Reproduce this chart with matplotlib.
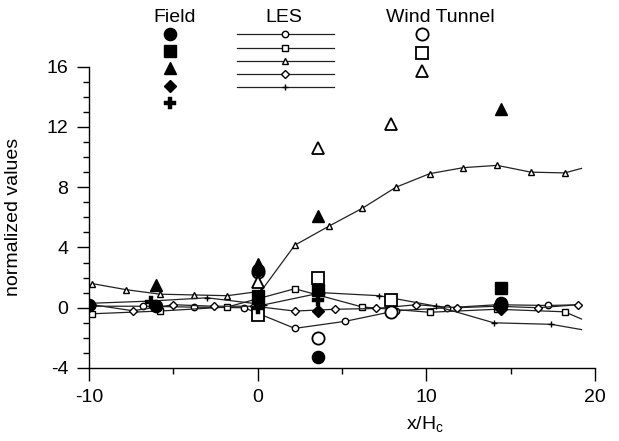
import matplotlib
matplotlib.use("Agg")
import matplotlib.pyplot as plt
from matplotlib.lines import Line2D

plt.rcParams['font.family'] = ['Liberation Sans', 'DejaVu Sans']
plt.rcParams['axes.unicode_minus'] = False

# ---------------- data ----------------
# LES (lines with small open markers)
les_circle_x = [-9.8, -6.8, -3.8, -0.8, 2.2, 5.2, 8.2, 11.2, 14.2, 17.2, 19.2]
les_circle_y = [0.1, 0.1, 0.04, 0.0, -1.37, -0.9, -0.2, 0.0, 0.2, 0.15, 0.2]

les_square_x = [-9.8, -5.8, -1.8, 2.2, 6.2, 10.2, 14.2, 18.2, 19.2]
les_square_y = [-0.4, -0.22, 0.05, 1.26, 0.05, -0.3, -0.1, -0.27, -0.75]

les_tri_x = [-9.8, -7.8, -5.8, -3.8, -1.8, 0.2, 2.2, 4.2, 6.2, 8.2, 10.2, 12.2, 14.2, 16.2, 18.2, 19.2]
les_tri_y = [1.6, 1.2, 0.9, 0.85, 0.8, 1.1, 4.15, 5.4, 6.6, 8.0, 8.9, 9.3, 9.45, 9.0, 8.95, 9.25]

les_diam_x = [-9.8, -7.4, -5.0, -2.6, -0.2, 2.2, 4.6, 7.0, 9.4, 11.8, 14.2, 16.6, 19.0]
les_diam_y = [0.2, -0.2, 0.2, 0.1, 0.1, -0.22, -0.1, -0.05, 0.2, 0.0, 0.1, 0.0, 0.2]

les_plus_x = [-9.8, -6.4, -3.0, 0.4, 3.8, 7.2, 10.6, 14.0, 17.4, 19.2]
les_plus_y = [0.3, 0.44, 0.66, 0.2, 1.0, 0.8, 0.1, -1.0, -1.1, -1.45]

# Field (large filled markers)
field_circle_x = [-10, -6, 0, 3.6, 14.4]
field_circle_y = [0.2, 0.1, 2.5, -3.3, 0.3]
field_square_x = [0, 3.6, 14.4]
field_square_y = [0.8, 1.2, 1.3]
field_tri_x = [-6, 0, 3.6, 14.4]
field_tri_y = [1.5, 2.9, 6.1, 13.2]
field_diam_x = [-10, 0, 3.6, 14.4]
field_diam_y = [0.1, 0.3, -0.2, -0.1]
field_plus_x = [-6.3, 0, 3.6, 14.4]
field_plus_y = [0.4, 0.0, 0.5, 0.0]

# Wind tunnel (large open markers)
wt_circle_x = [0, 3.6, 7.9, 14.4]
wt_circle_y = [2.4, -2.0, -0.25, 0.2]
wt_square_x = [0, 3.6, 7.9]
wt_square_y = [-0.5, 2.0, 0.5]
wt_tri_x = [0, 3.6, 7.9]
wt_tri_y = [1.7, 10.6, 12.2]

# axis ticks
xticks = [-10, 0, 10, 20]
yticks = [-4, 0, 4, 8, 12, 16]

# ---------------- figure ----------------
fig = plt.figure(figsize=(6.19, 4.41), dpi=100)
ax = fig.add_axes([89/619, 73/441, (595-89)/619, (368-66.7)/441])

lw = 0.9
ms_les = 4.6
big = 8.8


def les_ms(m):
    return ms_les * 0.85 if m == 'D' else ms_les


les = [
    (les_circle_x, les_circle_y, 'o'),
    (les_square_x, les_square_y, 's'),
    (les_tri_x, les_tri_y, '^'),
    (les_diam_x, les_diam_y, 'D'),
    (les_plus_x, les_plus_y, '+'),
]
for x, y, m in les:
    ax.plot(x, y, color='#222222', lw=lw, marker=m, markersize=les_ms(m),
            markerfacecolor='white', markeredgecolor='black', markeredgewidth=1.0,
            markevery=list(range(len(x) - 1)) if x[-1] == 19.2 else None, zorder=3)

wt = [
    (wt_circle_x, wt_circle_y, 'o'),
    (wt_square_x, wt_square_y, 's'),
    (wt_tri_x, wt_tri_y, '^'),
]
for x, y, m in wt:
    ax.plot(x, y, linestyle='none', marker=m, markersize=big, markerfacecolor='white',
            markeredgecolor='black', markeredgewidth=1.3, zorder=4)

field = [
    (field_circle_x, field_circle_y, 'o', big, 1.0),
    (field_square_x, field_square_y, 's', big, 1.0),
    (field_tri_x, field_tri_y, '^', big, 1.0),
    (field_diam_x, field_diam_y, 'D', big * 0.72, 1.0),
    (field_plus_x, field_plus_y, 'P', big * 0.9, 0.3),
]
for x, y, m, ms, mew in field:
    ax.plot(x, y, linestyle='none', marker=m, markersize=ms, markerfacecolor='black',
            markeredgecolor='black', markeredgewidth=mew, zorder=5)

ax.set_xlim(-10, 20)
ax.set_ylim(-4, 16)
ax.set_xticks(xticks)
ax.set_yticks(yticks)
ax.set_xticks([-5, 5, 15], minor=True)
ax.set_yticks([v for v in range(-4, 17) if v % 4 != 0], minor=True)
ax.spines['top'].set_visible(False)
ax.spines['right'].set_visible(False)
ax.spines['left'].set_linewidth(1.0)
ax.spines['bottom'].set_linewidth(1.0)
ax.tick_params(axis='both', which='major', direction='out', length=9, width=1.0,
               labelsize=14, pad=6)
ax.tick_params(axis='both', which='minor', direction='out', length=4.5, width=1.0)

ax.set_xlabel('x/H$_\\mathregular{c}$', fontsize=14)
ax.xaxis.set_label_coords((425-89)/506, -0.155)
ax.set_ylabel('normalized values', fontsize=14)
ax.yaxis.set_label_coords(-0.132, 0.5)

# ---------------- custom legend (figure pixel overlay) ----------------
lg = fig.add_axes([0, 0, 1, 1], facecolor='none')
lg.set_xlim(0, 619)
lg.set_ylim(441, 0)
lg.axis('off')

lg.text(175, 17, 'Field', ha='center', va='center', fontsize=14)
lg.text(284, 17, 'LES', ha='center', va='center', fontsize=14)
lg.text(440, 17, 'Wind Tunnel', ha='center', va='center', fontsize=14)

field_leg = [('o', big, 1.0), ('s', big, 1.0), ('^', big, 1.0), ('D', big * 0.72, 1.0), ('P', big * 0.9, 0.3)]
for i, (m, ms, mew) in enumerate(field_leg):
    lg.add_line(Line2D([170], [34 + 17.2 * i], marker=m, markersize=ms, linestyle='none',
                       markerfacecolor='black', markeredgecolor='black', markeredgewidth=mew))

les_leg = ['o', 's', '^', 'D', '+']
for i, m in enumerate(les_leg):
    yy = 34.3 + 13.25 * i
    lg.add_line(Line2D([237, 334], [yy, yy], color='#222222', lw=lw))
    lg.add_line(Line2D([285], [yy], marker=m, markersize=les_ms(m), linestyle='none',
                       markerfacecolor='white', markeredgecolor='black', markeredgewidth=1.0))

wt_leg = ['o', 's', '^']
for i, m in enumerate(wt_leg):
    lg.add_line(Line2D([421.7], [34 + 18.5 * i], marker=m, markersize=big, linestyle='none',
                       markerfacecolor='white', markeredgecolor='black', markeredgewidth=1.3))

fig.savefig('out.png', dpi=100)
